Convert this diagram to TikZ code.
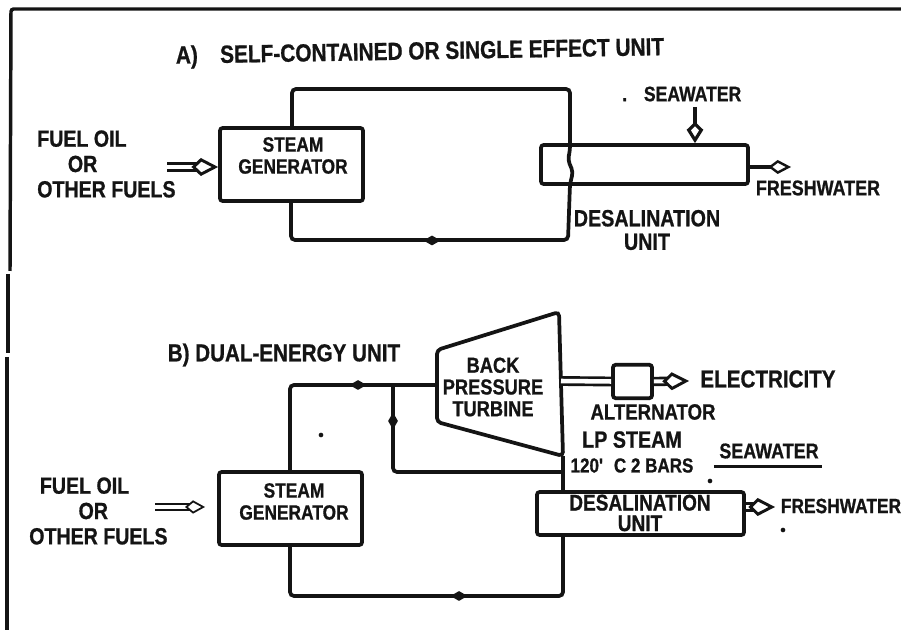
\documentclass[tikz,border=0pt]{standalone}
\usepackage{fontspec}
\setmainfont{Liberation Sans}[FakeStretch=0.84,BoldFeatures={FakeBold=0.8}]
\usetikzlibrary{arrows.meta,shapes.geometric}
\tikzset{
  wire/.style={line width=2.8pt,rounded corners=3pt,black!92},
  box/.style={draw=black!92,line width=2.8pt,rounded corners=2pt,inner sep=0pt},
  lab/.style={font=\fontsize{#1}{#1}\selectfont\bfseries,align=center,inner sep=0pt,text=black!92},
  lab/.default=16,
  flowmark/.style={diamond,fill=black!92,inner sep=0pt,minimum width=13pt,minimum height=7.5pt},
  hollow/.style={line width=2pt,double=white,double distance=3pt,black!92,-{Kite[fill=white,length=20pt,width=13.5pt,inset=7pt,line width=2.2pt]}},
  thinhollow/.style={line width=1.3pt,double=white,double distance=3pt,black!92,-{Kite[fill=white,length=15pt,width=10pt,inset=6pt,line width=1.3pt]}},
  openhead/.style={line width=3.4pt,black!92,-{Kite[fill=white,length=16pt,width=12.5pt,inset=6pt,line width=2.4pt]}},
  openheadB/.style={line width=3.4pt,black!92,-{Kite[fill=white,length=17pt,width=10.5pt,inset=7pt,line width=1.8pt]}},
  speck/.style={circle,fill=black!92,inner sep=0pt,minimum size=3.5pt},
}
\begin{document}
\begin{tikzpicture}[x=0.75pt,y=-0.75pt]
\useasboundingbox (0,0) rectangle (901,630);
\fill[white] (0,0) rectangle (901,630);
% frame
\draw[line width=2.6pt,black!92,rounded corners=2pt] (901,9) -- (11,9) -- (10,271);
\draw[line width=2.6pt,black!92] (8,274) -- (8,353);
\draw[line width=2.6pt,black!92] (7,357) -- (7,630);
% A
\node[lab=18.6,rotate=1] (titleA) at (420,53) {A)\hspace{.9em}SELF-CONTAINED OR SINGLE EFFECT UNIT};
\node[box,minimum width=107.25pt,minimum height=54.75pt] (sgA) at (291.5,164.5) {};
\node[lab=15.5] (sgAt) at (293,155.5) {STEAM\\[1pt]GENERATOR};
\node[box,minimum width=155.25pt,minimum height=29.25pt] (dsA) at (644.5,164.5) {};
\node[lab=17.5,align=left,anchor=west] (fuelA) at (37,164) {FUEL OIL\\[1.5pt]\hspace*{23pt}OR\\[1.5pt]OTHER FUELS};
\coordinate (fuelAin) at (167,167);
\draw[hollow] (fuelAin) -- (sgA.west |- fuelAin);
\draw[wire] (sgA.north -| 292,0) -- (292,89) -- (570,89) -- (570,150) -- (568,160) -- (573,172) -- (570,184) -- (568,240) -- (291,240) -- (sgA.south -| 291,0);
\node[flowmark] (flowA) at (432,240.5) {};
\node[lab=15.7,anchor=west] (seaA) at (622,94) {.\hspace{.8em}SEAWATER};
\coordinate (seaAin) at (695,107);
\draw[openhead] (seaAin) -- (dsA.north -| seaAin);
\coordinate (freshAout) at (791,167);
\draw[openheadB] (dsA.east |- freshAout) -- (freshAout);
\node[lab=16] (freshA) at (818,188) {FRESHWATER};
\node[lab=17.6] (dsAt) at (647,230) {DESALINATION\\UNIT};
% B
\node[lab=18.4] (titleB) at (284,355) {B) DUAL-ENERGY UNIT};
\node[box,minimum width=107.25pt,minimum height=54.75pt] (sgB) at (290.5,508.5) {};
\node[lab=15.5] (sgBt) at (294,501.5) {STEAM\\[1pt]GENERATOR};
\node[lab=17.5,align=left,anchor=west] (fuelB) at (29,511) {\hspace*{8pt}FUEL OIL\\[1.5pt]\hspace*{37pt}OR\\[1.5pt]OTHER FUELS};
\coordinate (fuelBin) at (155,507);
\draw[thinhollow] (fuelBin) -- (205,507);
\coordinate (t1) at (437,350); \coordinate (t2) at (559,312);
\coordinate (t3) at (563,456); \coordinate (t4) at (437,422);
\draw[wire] (t1) -- (t2) -- (t3) -- (t4) -- cycle;
\node[lab=16.3] (turb) at (493,387) {BACK\hspace{1.9em}\\PRESSURE\\TURBINE};
\node[box,minimum width=155.25pt,minimum height=32.25pt] (dsB) at (640.5,513.5) {};
\node[lab=17] (dsBt) at (640,513) {DESALINATION\\[-1.6pt]UNIT};
\coordinate (turbIn) at (437,385); \coordinate (junc) at (393,385);
\draw[wire] (sgB.north -| 290,0) -- (290,385) -- (junc) -- (turbIn);
\draw[wire] (junc) -- (393,472) -- (563,472);
\draw[wire] (t3) -- (dsB.north -| t3);
\draw[wire] (dsB.south -| t3) -- (563,596) -- (290,596) -- (sgB.south -| 290,0);
\node[flowmark] (flowB1) at (358,385) {};
\node[flowmark,rotate=90] (flowB2) at (393,421) {};
\node[flowmark] (flowB3) at (459,596) {};
\node[box,minimum width=29.25pt,minimum height=25pt] (alt) at (632.5,381.5) {};
\coordinate (altIn) at (561,381);
\draw[line width=2pt,double=white,double distance=3.4pt,black!92] (altIn) -- (alt.west);
\coordinate (elec) at (689,381);
\draw[hollow] (alt.east) -- (elec);
\node[lab=18.4] (elecT) at (768,379) {ELECTRICITY};
\node[lab=16.6] (altT) at (653,412) {ALTERNATOR};
\node[lab=17.6] (lp) at (632,452) {LP STEAM\\[1pt]{\fontsize{15.2}{15.2}\selectfont 120\textquotesingle\hspace{.5em}C 2 BARS}};
\node[lab=16] (seaB) at (769,451) {SEAWATER};
\draw[line width=2.2pt,black!92] ([xshift=-4pt,yshift=-6pt]seaB.south west) -- ([xshift=2pt,yshift=-6pt]seaB.south east);
\coordinate (freshBout) at (775,507);
\draw[hollow] (dsB.east |- freshBout) -- (freshBout);
\node[lab=15.5] (freshB) at (841,506) {FRESHWATER};
\node[speck] (s1) at (321,435) {};
\node[speck] (s2) at (710,481) {};
\node[speck] (s3) at (783,530) {};
\end{tikzpicture}
\end{document}
